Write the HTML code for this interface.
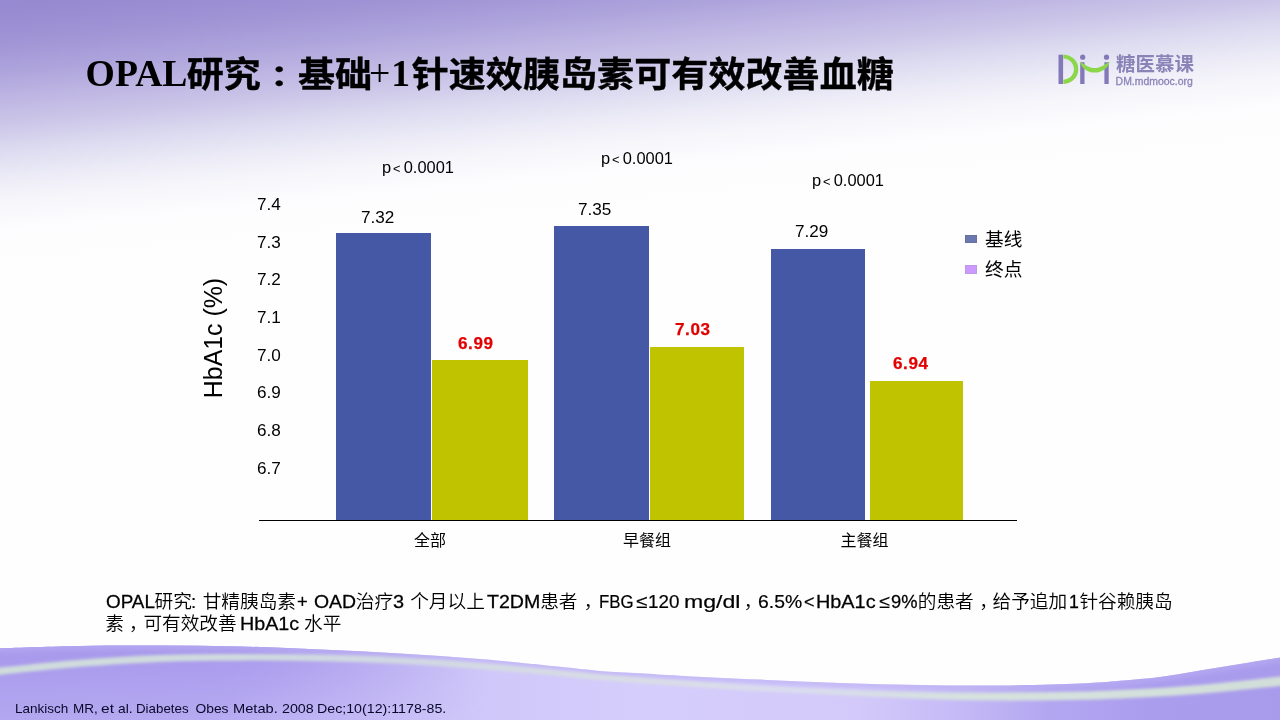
<!DOCTYPE html>
<html lang="zh-CN">
<head>
<meta charset="utf-8">
<title>OPAL研究：基础+1针速效胰岛素可有效改善血糖</title>
<style>
html,body{margin:0;padding:0;}
body{width:1280px;height:720px;overflow:hidden;background:#fff;}
#slide{position:relative;width:1280px;height:720px;overflow:hidden;background:#fefefe;
  font-family:"Liberation Sans","Noto Sans CJK SC",sans-serif;color:#000;}
#topgrad{position:absolute;left:0;top:0;width:1280px;height:720px;
  background:linear-gradient(174.46deg, #9689d1 0.0px, #978ad1 9.0px, #a094d5 40.8px, #aea4dc 71.7px, #c1b9e4 103.5px, #c9c3e7 119.4px, #d2ceeb 134.4px, #dcdaf0 149.3px, #e6e5f4 167.2px, #f0eff8 185.1px, #f6f6fb 203.0px, #fcfcfe 224.9px, #fefdfe 243.9px, #fefeff 268.7px);}
#wave{position:absolute;left:0;top:0;width:1280px;height:720px;}
.t{position:absolute;white-space:nowrap;line-height:1;margin:0;}
#title{left:85.6px;top:55px;font-size:37.05px;font-weight:bold;
  font-family:"Liberation Serif","Noto Sans CJK SC",serif;}
#title .l{font-size:37.7px;}
#title .p{font-size:37.7px;font-weight:normal;margin-left:-3px;margin-right:1px;}
#title .c{font-family:"Liberation Serif","Noto Sans CJK JP",serif;display:inline-block;transform:translateY(0.6px) scaleY(0.82);transform-origin:50% 76%;}
#title .k{display:inline-block;transform:translateY(1.4px) scaleY(0.95);transform-origin:50% 50%;-webkit-text-stroke:0.4px #000;}
#title .k1{margin-left:-0.8px;}
#title .k2{margin-left:1.6px;letter-spacing:0.04px;}
.ax,.val{transform:scaleX(1.07);transform-origin:0 50%;}
.pv{transform:scaleX(1.025);transform-origin:0 50%;}
.ax{font-size:16px;left:256.7px;}
.val{font-size:16px;}
.pv i{font-style:normal;font-size:12.5px;position:relative;top:-0.5px;margin:0 3.2px 0 1.8px;}
.red{font-size:16.5px;font-weight:bold;color:#e20000;letter-spacing:0.6px;transform:scaleX(1.035);transform-origin:0 50%;-webkit-text-stroke:0.25px #e20000;}
.pv{font-size:16px;}
.cat{font-size:16px;font-weight:400;}
.leg{font-size:18.67px;left:985px;font-weight:400;}
.bar{position:absolute;}
.blue{background:#4558a5;}
.yel{background:#c0c400;}
#ytitle{left:213px;top:337.6px;font-size:24.9px;transform:translate(-50%,-50%) rotate(-90deg);transform-origin:50% 50%;}
.bl{position:absolute;left:0;width:1280px;height:20px;white-space:nowrap;font-size:18.67px;line-height:1;font-weight:350;}
.b{display:inline-block;white-space:nowrap;transform-origin:0 50%;vertical-align:top;}
.hv{-webkit-text-stroke:0.27px #000;}
.la{-webkit-text-stroke:0.2px #000;}
#foot{font-size:13.8px;color:#08082a;font-weight:400;transform:scaleY(0.94);transform-origin:0 10.9px;}
#logo{position:absolute;left:1050px;top:40px;width:160px;height:60px;}
#logocn{left:1116px;top:55.4px;font-size:19.5px;font-weight:bold;color:#8a83b8;transform:scaleY(0.97);}
#logoen{left:1115.6px;top:76.6px;font-size:10.45px;color:#8a83b8;-webkit-text-stroke:0.3px #8a83b8;}
</style>
</head>
<body>
<div id="slide">
  <div id="topgrad"></div>
  <svg id="wave" viewBox="0 0 1280 720">
    <defs>
      <linearGradient id="wg" x1="0" y1="0" x2="1280" y2="0" gradientUnits="userSpaceOnUse">
        <stop offset="0" stop-color="#b3a7f0"/>
        <stop offset="0.17" stop-color="#b6aaf2"/>
        <stop offset="0.28" stop-color="#c3b8f5"/>
        <stop offset="0.37" stop-color="#cfc7f9"/>
        <stop offset="0.5" stop-color="#d5cdfb"/>
        <stop offset="0.67" stop-color="#d3cafa"/>
        <stop offset="0.75" stop-color="#c5baf6"/>
        <stop offset="0.82" stop-color="#b3a6f1"/>
        <stop offset="0.9" stop-color="#ab9dee"/>
        <stop offset="1" stop-color="#a99bec"/>
      </linearGradient>
      <linearGradient id="wv" x1="0" y1="646" x2="0" y2="716" gradientUnits="userSpaceOnUse">
        <stop offset="0" stop-color="#a595ea" stop-opacity="0.85"/>
        <stop offset="1" stop-color="#a595ea" stop-opacity="0"/>
      </linearGradient>
      <linearGradient id="wm" x1="0" y1="0" x2="1280" y2="0" gradientUnits="userSpaceOnUse">
        <stop offset="0" stop-color="#fff"/>
        <stop offset="0.2" stop-color="#fff"/>
        <stop offset="0.38" stop-color="#000"/>
        <stop offset="1" stop-color="#000"/>
      </linearGradient>
      <mask id="wmask" maskUnits="userSpaceOnUse" x="0" y="0" width="1280" height="720"><rect x="0" y="0" width="1280" height="720" fill="url(#wm)"/></mask>
      <linearGradient id="sg" x1="0" y1="0" x2="1280" y2="0" gradientUnits="userSpaceOnUse">
        <stop offset="0" stop-color="#cfddda"/>
        <stop offset="0.3" stop-color="#d0d8e2"/>
        <stop offset="0.5" stop-color="#d9dee4"/>
        <stop offset="0.62" stop-color="#dadcee"/>
        <stop offset="0.75" stop-color="#d6e2de"/>
        <stop offset="1" stop-color="#d2dfd8"/>
      </linearGradient>
      <filter id="bl2" x="-5%" y="-50%" width="110%" height="200%"><feGaussianBlur stdDeviation="2"/></filter>
      <clipPath id="wclip"><path d="M-20.0,649.2 C-16.7,649.1 -16.7,648.8 0.0,648.3 C16.7,647.8 53.3,646.5 80.0,646.0 C106.7,645.5 133.3,645.5 160.0,645.6 C186.7,645.7 213.3,645.9 240.0,646.5 C266.7,647.1 293.3,648.3 320.0,649.5 C346.7,650.7 373.3,651.9 400.0,653.5 C426.7,655.1 453.3,656.8 480.0,659.0 C506.7,661.2 540.0,664.8 560.0,666.8 C580.0,668.8 586.7,669.8 600.0,670.9 C613.3,672.0 626.7,672.4 640.0,673.2 C653.3,674.0 660.0,674.6 680.0,675.7 C700.0,676.8 733.3,678.4 760.0,679.6 C786.7,680.8 813.3,682.1 840.0,683.0 C866.7,683.9 893.3,684.6 920.0,685.0 C946.7,685.4 973.3,685.8 1000.0,685.5 C1026.7,685.2 1060.0,684.3 1080.0,683.5 C1100.0,682.7 1106.7,681.9 1120.0,680.8 C1133.3,679.7 1146.7,678.7 1160.0,677.0 C1173.3,675.3 1186.7,672.7 1200.0,670.5 C1213.3,668.3 1226.7,666.2 1240.0,664.0 C1253.3,661.8 1270.0,659.2 1280.0,657.5 C1290.0,655.8 1296.7,654.6 1300.0,654.0 L1300,730 L-20,730 Z"/></clipPath>
      <filter id="bl" x="-5%" y="-50%" width="110%" height="200%"><feGaussianBlur stdDeviation="1.7"/></filter>
    </defs>
    <path id="wavefill" fill="url(#wg)" d="M-20.0,649.2 C-16.7,649.1 -16.7,648.8 0.0,648.3 C16.7,647.8 53.3,646.5 80.0,646.0 C106.7,645.5 133.3,645.5 160.0,645.6 C186.7,645.7 213.3,645.9 240.0,646.5 C266.7,647.1 293.3,648.3 320.0,649.5 C346.7,650.7 373.3,651.9 400.0,653.5 C426.7,655.1 453.3,656.8 480.0,659.0 C506.7,661.2 540.0,664.8 560.0,666.8 C580.0,668.8 586.7,669.8 600.0,670.9 C613.3,672.0 626.7,672.4 640.0,673.2 C653.3,674.0 660.0,674.6 680.0,675.7 C700.0,676.8 733.3,678.4 760.0,679.6 C786.7,680.8 813.3,682.1 840.0,683.0 C866.7,683.9 893.3,684.6 920.0,685.0 C946.7,685.4 973.3,685.8 1000.0,685.5 C1026.7,685.2 1060.0,684.3 1080.0,683.5 C1100.0,682.7 1106.7,681.9 1120.0,680.8 C1133.3,679.7 1146.7,678.7 1160.0,677.0 C1173.3,675.3 1186.7,672.7 1200.0,670.5 C1213.3,668.3 1226.7,666.2 1240.0,664.0 C1253.3,661.8 1270.0,659.2 1280.0,657.5 C1290.0,655.8 1296.7,654.6 1300.0,654.0 L1300,730 L-20,730 Z"/>
    <path fill="url(#wv)" mask="url(#wmask)" d="M-20.0,649.2 C-16.7,649.1 -16.7,648.8 0.0,648.3 C16.7,647.8 53.3,646.5 80.0,646.0 C106.7,645.5 133.3,645.5 160.0,645.6 C186.7,645.7 213.3,645.9 240.0,646.5 C266.7,647.1 293.3,648.3 320.0,649.5 C346.7,650.7 373.3,651.9 400.0,653.5 C426.7,655.1 453.3,656.8 480.0,659.0 C506.7,661.2 540.0,664.8 560.0,666.8 C580.0,668.8 586.7,669.8 600.0,670.9 C613.3,672.0 626.7,672.4 640.0,673.2 C653.3,674.0 660.0,674.6 680.0,675.7 C700.0,676.8 733.3,678.4 760.0,679.6 C786.7,680.8 813.3,682.1 840.0,683.0 C866.7,683.9 893.3,684.6 920.0,685.0 C946.7,685.4 973.3,685.8 1000.0,685.5 C1026.7,685.2 1060.0,684.3 1080.0,683.5 C1100.0,682.7 1106.7,681.9 1120.0,680.8 C1133.3,679.7 1146.7,678.7 1160.0,677.0 C1173.3,675.3 1186.7,672.7 1200.0,670.5 C1213.3,668.3 1226.7,666.2 1240.0,664.0 C1253.3,661.8 1270.0,659.2 1280.0,657.5 C1290.0,655.8 1296.7,654.6 1300.0,654.0 L1300,730 L-20,730 Z"/>
    <path id="eband" fill="none" stroke="#b9adf3" stroke-width="9" stroke-opacity="0.55" filter="url(#bl2)" clip-path="url(#wclip)" d="M-20.0,649.2 C-16.7,649.1 -16.7,648.8 0.0,648.3 C16.7,647.8 53.3,646.5 80.0,646.0 C106.7,645.5 133.3,645.5 160.0,645.6 C186.7,645.7 213.3,645.9 240.0,646.5 C266.7,647.1 293.3,648.3 320.0,649.5 C346.7,650.7 373.3,651.9 400.0,653.5 C426.7,655.1 453.3,656.8 480.0,659.0 C506.7,661.2 540.0,664.8 560.0,666.8 C580.0,668.8 586.7,669.8 600.0,670.9 C613.3,672.0 626.7,672.4 640.0,673.2 C653.3,674.0 660.0,674.6 680.0,675.7 C700.0,676.8 733.3,678.4 760.0,679.6 C786.7,680.8 813.3,682.1 840.0,683.0 C866.7,683.9 893.3,684.6 920.0,685.0 C946.7,685.4 973.3,685.8 1000.0,685.5 C1026.7,685.2 1060.0,684.3 1080.0,683.5 C1100.0,682.7 1106.7,681.9 1120.0,680.8 C1133.3,679.7 1146.7,678.7 1160.0,677.0 C1173.3,675.3 1186.7,672.7 1200.0,670.5 C1213.3,668.3 1226.7,666.2 1240.0,664.0 C1253.3,661.8 1270.0,659.2 1280.0,657.5 C1290.0,655.8 1296.7,654.6 1300.0,654.0"/>
    <path id="streak" fill="url(#sg)" filter="url(#bl)" d="M-20.0,669.9 C-16.7,669.5 -16.7,669.3 0.0,667.6 C16.7,666.0 53.3,661.9 80.0,659.8 C106.7,657.7 133.3,656.0 160.0,655.1 C186.7,654.1 213.3,654.0 240.0,653.9 C266.7,653.9 293.3,654.0 320.0,654.6 C346.7,655.2 373.3,656.0 400.0,657.4 C426.7,658.8 453.3,661.0 480.0,663.1 C506.7,665.3 540.0,668.6 560.0,670.5 C580.0,672.4 586.7,673.4 600.0,674.6 C613.3,675.8 626.7,676.7 640.0,677.7 C653.3,678.7 660.0,679.1 680.0,680.5 C700.0,681.9 733.3,684.3 760.0,685.8 C786.7,687.3 813.3,688.6 840.0,689.7 C866.7,690.8 893.3,691.7 920.0,692.2 C946.7,692.7 973.3,692.9 1000.0,692.8 C1026.7,692.7 1060.0,692.1 1080.0,691.6 C1100.0,691.1 1106.7,690.6 1120.0,690.0 C1133.3,689.4 1146.7,688.8 1160.0,688.0 C1173.3,687.2 1186.7,686.1 1200.0,685.0 C1213.3,683.9 1226.7,682.5 1240.0,681.1 C1253.3,679.7 1270.0,677.8 1280.0,676.6 C1290.0,675.5 1296.7,674.8 1300.0,674.4 L1300.0,683.6 C1296.7,684.0 1290.0,684.8 1280.0,685.9 C1270.0,686.9 1253.3,688.8 1240.0,690.1 C1226.7,691.4 1213.3,692.7 1200.0,693.8 C1186.7,694.9 1173.3,695.8 1160.0,696.6 C1146.7,697.4 1133.3,697.9 1120.0,698.4 C1106.7,698.9 1100.0,699.4 1080.0,699.8 C1060.0,700.2 1026.7,700.8 1000.0,700.6 C973.3,700.4 946.7,699.7 920.0,698.8 C893.3,697.9 866.7,696.4 840.0,695.1 C813.3,693.8 786.7,692.7 760.0,691.2 C733.3,689.7 700.0,687.3 680.0,685.9 C660.0,684.6 653.3,684.1 640.0,683.1 C626.7,682.1 613.3,681.2 600.0,680.0 C586.7,678.8 580.0,677.8 560.0,675.9 C540.0,674.0 506.7,670.9 480.0,668.9 C453.3,666.9 426.7,665.1 400.0,663.8 C373.3,662.5 346.7,661.7 320.0,661.2 C293.3,660.7 266.7,660.5 240.0,660.7 C213.3,660.8 186.7,660.9 160.0,661.9 C133.3,663.0 106.7,664.7 80.0,666.8 C53.3,669.0 16.7,673.1 0.0,674.9 C-16.7,676.6 -16.7,676.7 -20.0,677.1 Z"/>
  </svg>

  <div id="title" class="t"><span class="l">OPAL</span><span class="k k1">研究<span class="c" lang="ja">：</span>基础</span><span class="p">+</span><span class="l">1</span><span class="k k2">针速效胰岛素可有效改善血糖</span></div>

  <svg id="logo" viewBox="0 0 160 60">
    <rect x="8.5" y="14.7" width="4.6" height="29.3" fill="#8379b9"/>
    <path d="M13.4,16.5 C30.4,17.6 30.4,40.7 13.4,41.8" fill="none" stroke="#8bd649" stroke-width="4.2"/>
    <rect x="30.2" y="22.2" width="4.3" height="21.8" fill="#8379b9"/>
    <rect x="54.4" y="22.2" width="4.3" height="21.8" fill="#8379b9"/>
    <circle cx="32.7" cy="17.2" r="2.6" fill="#8379b9"/>
    <circle cx="56.5" cy="17.2" r="2.6" fill="#8379b9"/>
    <path d="M30.1,21.7 C34,24.2 39.5,28.1 44.7,28.1 C49.9,28.1 55.4,24.2 59.3,21.7 L59.3,23 C57.1,28.7 51.4,32.6 44.7,32.6 C38,32.6 32.3,28.7 30.1,23 Z" fill="#8bd649"/>
  </svg>
  <div id="logocn" class="t">糖医慕课</div>
  <div id="logoen" class="t">DM.mdmooc.org</div>

  <!-- chart -->
  <div class="t ax" style="top:197px">7.4</div>
  <div class="t ax" style="top:235px">7.3</div>
  <div class="t ax" style="top:272px">7.2</div>
  <div class="t ax" style="top:310px">7.1</div>
  <div class="t ax" style="top:348px">7.0</div>
  <div class="t ax" style="top:385px">6.9</div>
  <div class="t ax" style="top:423px">6.8</div>
  <div class="t ax" style="top:461px">6.7</div>
  <div id="ytitle" class="t">HbA1c (%)</div>

  <div class="bar blue" style="left:336px;top:233px;width:95px;height:287px"></div>
  <div class="bar yel" style="left:432px;top:360px;width:96px;height:160px"></div>
  <div class="bar blue" style="left:554px;top:226px;width:95px;height:294px"></div>
  <div class="bar yel" style="left:650px;top:347px;width:94px;height:173px"></div>
  <div class="bar blue" style="left:771px;top:249px;width:94px;height:271px"></div>
  <div class="bar yel" style="left:870px;top:381px;width:93px;height:139px"></div>
  <div class="bar" style="left:259px;top:520px;width:758px;height:1px;background:#000"></div>

  <div class="t val" style="left:360.8px;top:210px">7.32</div>
  <div class="t val" style="left:577.9px;top:202px">7.35</div>
  <div class="t val" style="left:794.8px;top:224px">7.29</div>
  <div class="t red" style="left:458.3px;top:335px">6.99</div>
  <div class="t red" style="left:675.3px;top:321px">7.03</div>
  <div class="t red" style="left:893.3px;top:355px">6.94</div>

  <div class="t pv" style="left:382px;top:160.2px">p<i>&lt;</i>0.0001</div>
  <div class="t pv" style="left:600.7px;top:151.2px">p<i>&lt;</i>0.0001</div>
  <div class="t pv" style="left:812.2px;top:173.2px">p<i>&lt;</i>0.0001</div>

  <div class="t cat" style="left:414px;top:533px">全部</div>
  <div class="t cat" style="left:623px;top:533px">早餐组</div>
  <div class="t cat" style="left:840.6px;top:533px">主餐组</div>

  <div class="bar" style="left:965px;top:235px;width:12px;height:8px;background:#6b78af;box-shadow:inset 0 0 0 1px #67709f"></div>
  <div class="bar" style="left:965px;top:265px;width:12px;height:9px;background:#cb99ff;box-shadow:inset 0 0 0 1px #bf98ec"></div>
  <div class="t leg" style="top:231px">基线</div>
  <div class="t leg" style="top:261px">终点</div>

  <div id="body1" class="bl" style="top:593px"><span class="b hv" style="margin-left:105.89px;width:48.71px;transform:scaleX(1.011)">OPAL</span><span class="b" style="width:36.40px">研究</span><span class="b la" style="width:6.56px">:</span> <span class="b" style="width:94.26px">甘精胰岛素</span><span class="b la" style="width:11.76px;transform:scaleX(0.989)">+</span> <span class="b hv" style="width:41.94px;transform:scaleX(1.041)">OAD</span><span class="b" style="width:37.43px">治疗</span><span class="b hv" style="width:11.73px;transform:scaleX(1.067)">3</span> <span class="b" style="width:76.65px">个月以上</span><span class="b hv" style="width:53.35px;transform:scaleX(1.05)">T2DM</span><span class="b" style="width:43.65px">患者</span><span class="b" style="width:15.20px">，</span><span class="b la" style="width:32.12px;transform:scaleX(0.903)">FBG</span> <span class="b la" style="width:11.34px;transform:scaleX(1.1)">≤</span><span class="b la" style="width:31.44px;transform:scaleX(1.009)">120</span> <span class="b la" style="width:59.54px;transform:scaleX(1.236)">mg/dl</span><span class="b" style="width:13.81px">，</span><span class="b la" style="width:46.31px;transform:scaleX(1.037)">6.5%</span><span class="b la" style="width:12.41px;transform:scaleX(0.972)">&lt;</span><span class="b hv" style="width:62.52px;transform:scaleX(1.064)">HbA1c</span><span class="b la" style="width:12.56px;transform:scaleX(1.044)">≤</span><span class="b hv" style="width:26.48px;transform:scaleX(0.981)">9%</span><span class="b" style="width:61.50px">的患者</span><span class="b" style="width:13.25px">，</span><span class="b" style="width:76.30px">给予追加</span><span class="b hv" style="width:10.55px;transform:scaleX(0.95)">1</span><span class="b">针谷赖胰岛</span></div>
  <div id="body2" class="bl" style="top:615px"><span class="b" style="margin-left:105.25px;width:23.75px">素</span><span class="b" style="width:14.40px">，</span><span class="b" style="width:96.14px">可有效改善</span><span class="b hv" style="width:59.27px;transform:scaleX(1.057)">HbA1c</span> <span class="b">水平</span></div>

  <div id="foot" class="bl" style="top:702px"><span class="b" style="margin-left:14.62px;width:54.31px;transform:scaleX(0.979)">Lankisch</span> <span class="b" style="width:24.76px;transform:scaleX(0.978)">MR,</span> <span class="b" style="width:12.78px;transform:scaleX(1.125)">et</span> <span class="b" style="width:14.09px">al.</span> <span class="b" style="width:51.98px;transform:scaleX(0.966)">Diabetes</span>&nbsp; <span class="b" style="width:33.24px">Obes</span> <span class="b" style="width:45.53px;transform:scaleX(1.062)">Metab.</span> <span class="b" style="width:30.81px;transform:scaleX(1.034)">2008</span> <span class="b" style="transform:scaleX(1.03)">Dec;10(12):1178-85.</span></div>
</div>
</body>
</html>
